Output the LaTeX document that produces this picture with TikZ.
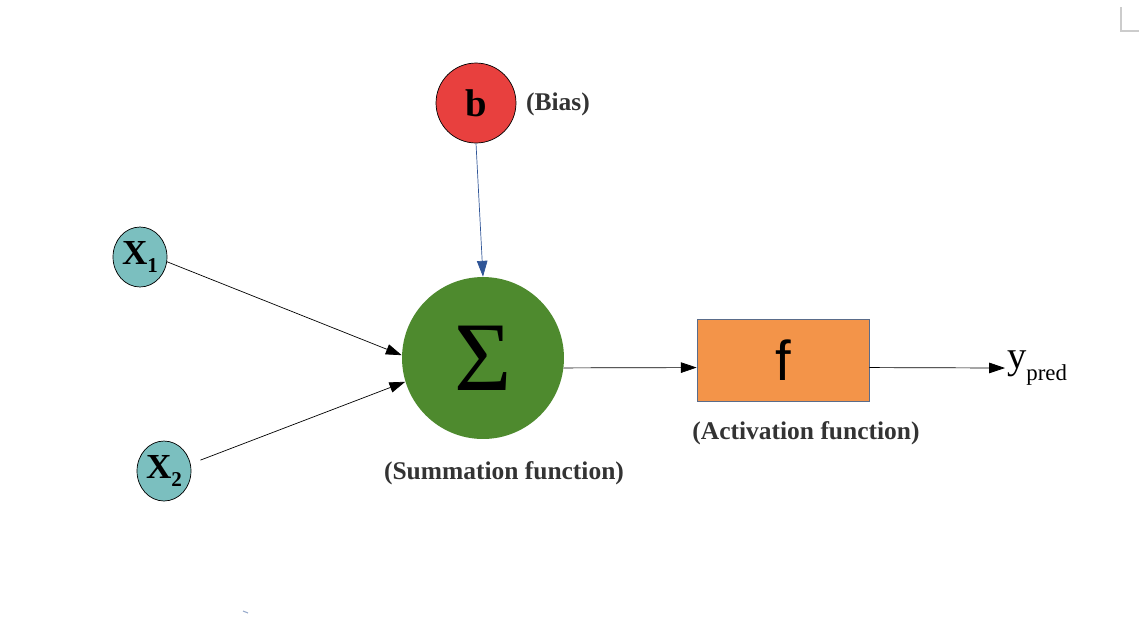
\documentclass[tikz,border=0pt]{standalone}
\usepackage{fontspec}
\setmainfont{Liberation Serif}
\newfontfamily\labelsans{Liberation Sans}
\usetikzlibrary{arrows.meta, shapes.geometric}

\definecolor{biasred}{RGB}{232,64,62}
\definecolor{inputteal}{RGB}{123,191,191}
\definecolor{sumgreen}{RGB}{78,138,46}
\definecolor{actorange}{RGB}{243,148,73}
\definecolor{boxedge}{RGB}{90,108,138}
\definecolor{biasblue}{RGB}{47,85,151}
\definecolor{labelgray}{RGB}{51,51,51}

\begin{document}
\begin{tikzpicture}[
    x=0.02cm, y=-0.02cm,
    input/.style={ellipse, draw, thin, fill=inputteal, minimum width=1.08cm, minimum height=1.2cm, inner sep=0pt, font=\bfseries\fontsize{20}{20}\selectfont},
    caption/.style={font=\bfseries\fontsize{14.5}{17}\selectfont, text=labelgray},
    conn/.style={-{Triangle[length=9pt, width=6pt]}, thin}
]
    \useasboundingbox (0,0) rectangle (1139,627);

    % Nodes
    \node[circle, draw, thin, fill=biasred, minimum size=1.6cm, inner sep=0pt, font=\bfseries\fontsize{22}{22}\selectfont] (bias) at (476,103) {b};
    \node[caption] (biaslabel) at (558,104) {(Bias)};

    \node[input] (x1) at (140,257) {X\raisebox{-5pt}{\fontsize{12}{12}\selectfont 1}};
    \node[input] (x2) at (164,471) {X\raisebox{-5pt}{\fontsize{12}{12}\selectfont 2}};

    \node[circle, fill=sumgreen, minimum size=3.24cm, inner sep=0pt, font=\fontsize{56}{56}\selectfont] (sum) at (483,358) {Σ};
    \node[caption] (sumlabel) at (504,473) {(Summation function)};

    \node[rectangle, draw=boxedge, fill=actorange, minimum width=3.44cm, minimum height=1.64cm, inner sep=0pt, font=\labelsans\fontsize{32}{32}\selectfont] (act) at (783,360) {f};
    \node[caption] (actlabel) at (806,433) {(Activation function)};

    \node[anchor=west, inner sep=1pt, font=\fontsize{22}{22}\selectfont] (ypred) at (1005,368) {y\raisebox{-7pt}{\fontsize{13}{13}\selectfont pred}};

    % Connections
    \draw[conn] (x1.-10) -- (sum.178);
    \draw[conn, shorten <=6pt] (x2.15) -- (sum.197);
    \draw[conn, draw=biasblue, -{Triangle[length=9pt, width=6pt, fill=biasblue]}] (bias.south) -- (sum.north);
    \draw[conn] (sum.-7) -- (act.185);
    \draw[conn] (act.-5) -- (ypred.west);

    % Page corner mark
    \draw[gray!40, line width=0.8pt] (1121,7) -- (1121,31) -- (1139,31);
    \draw[biasblue!50, line width=0.6pt] (243,611) -- (248,613);
\end{tikzpicture}
\end{document}
